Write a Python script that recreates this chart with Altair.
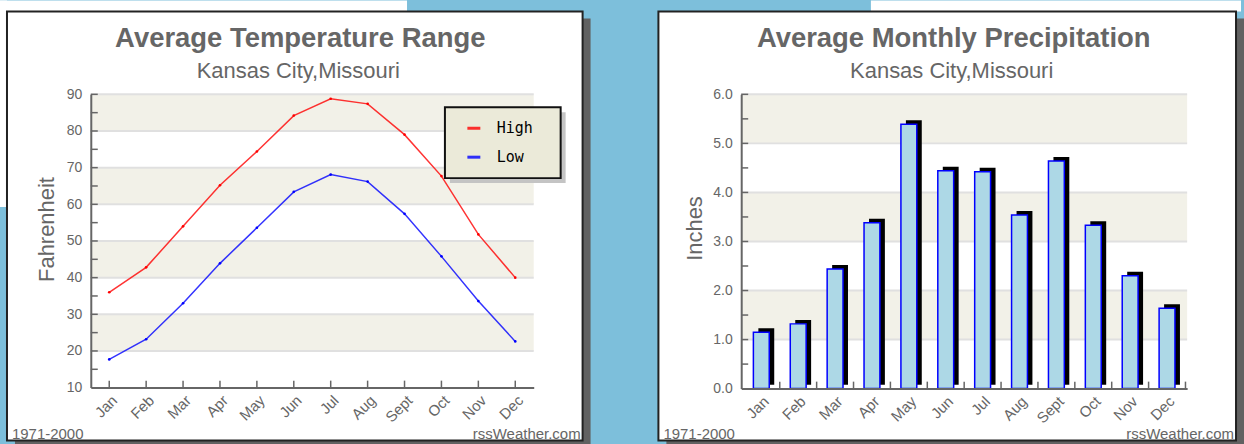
import altair as alt
import pandas as pd

# ---------------- data ----------------
months = ["Jan", "Feb", "Mar", "Apr", "May", "Jun", "Jul", "Aug", "Sept", "Oct", "Nov", "Dec"]
high_f = [36.0, 42.8, 54.0, 65.2, 74.4, 84.2, 88.8, 87.4, 79.0, 67.7, 51.8, 40.0]
low_f = [17.7, 23.2, 33.0, 43.9, 53.6, 63.4, 68.1, 66.2, 57.4, 45.8, 33.6, 22.6]
precip_in = [1.15, 1.32, 2.44, 3.38, 5.39, 4.44, 4.42, 3.54, 4.64, 3.33, 2.30, 1.64]

series_names = ["High", "Low"]
series_colors = ["#ff0000", "#0000ff"]

temp_ticks = [10, 20, 30, 40, 50, 60, 70, 80, 90]
temp_grid = [20, 30, 40, 50, 60, 70, 80, 90]
temp_minor = [15, 20, 25, 30, 35, 40, 45, 50, 55, 60, 65, 70, 75, 80, 85, 90]
temp_band_lo = [80, 60, 40, 20]
temp_band_hi = [90, 70, 50, 30]

precip_ticks = [0, 1, 2, 3, 4, 5, 6]
precip_grid = [1, 2, 3, 4, 5, 6]
precip_minor = [0.5, 1.0, 1.5, 2.0, 2.5, 3.0, 3.5, 4.0, 4.5, 5.0, 5.5, 6.0]
precip_band_lo = [5, 3, 1]
precip_band_hi = [6, 4, 2]

title_left = "Average Temperature Range"
title_right = "Average Monthly Precipitation"
subtitle = "Kansas City,Missouri"
footer_left = "1971-2000"
footer_right = "rssWeather.com"

# ---------------- style ----------------
FONT = "Liberation Sans"
TEXT = "#666666"
BAND = "#f2f1e8"
GRID = "#e0e0e0"
AXIS = "#666666"
W1, H1 = 444, 294
W2, H2 = 447, 295
PI, PO = 0.57, 0.33
STEP2 = W2 / (12 - PI + 2 * PO)

one = pd.DataFrame({"k": [0]})

temp_df = pd.DataFrame({
    "Month": months * 2,
    "Series": ["High"] * 12 + ["Low"] * 12,
    "Temp": high_f + low_f,
})
precip_df = pd.DataFrame({"Month": months, "Inches": precip_in})

axis_common = dict(
    labelFont=FONT, labelColor=TEXT,
    domainColor=AXIS, domainWidth=2, ticks=False, grid=False, zindex=1,
    titleFont=FONT, titleFontSize=22, titleColor=TEXT, titleFontWeight="normal",
)


def deco_rect(x0, x1, y0, y1, color="white"):
    return alt.Chart(one).mark_rect(color=color).encode(
        x=alt.value(x0), x2=alt.value(x1), y=alt.value(y0), y2=alt.value(y1))


def panel(x0, x1, y0, y1):
    shadow = deco_rect(x0 + 8, x1 + 8, y0 + 7, y1 + 20, "#616161")
    box = alt.Chart(one).mark_rect(fill="white", stroke="#222222", strokeWidth=2).encode(
        x=alt.value(x0), x2=alt.value(x1), y=alt.value(y0), y2=alt.value(y1))
    return shadow, box


def texts(title_text, cx, xl, xr, yf):
    t = alt.Chart(one).mark_text(align="center", baseline="alphabetic", font=FONT,
                                 fontSize=27.5, fontWeight="bold", color=TEXT).encode(
        x=alt.value(cx), y=alt.value(-47), text=alt.value(title_text))
    s = alt.Chart(one).mark_text(align="center", baseline="alphabetic", font=FONT,
                                 fontSize=22, color=TEXT).encode(
        x=alt.value(cx - 2), y=alt.value(-16), text=alt.value(subtitle))
    fl = alt.Chart(one).mark_text(align="left", baseline="alphabetic", font=FONT,
                                  fontSize=15, color=TEXT).encode(
        x=alt.value(xl), y=alt.value(yf), text=alt.value(footer_left))
    fr = alt.Chart(one).mark_text(align="right", baseline="alphabetic", font=FONT,
                                  fontSize=15, color=TEXT).encode(
        x=alt.value(xr), y=alt.value(yf), text=alt.value(footer_right))
    return [t, s, fl, fr]


# ---------------- left: temperature ----------------
ty = alt.Scale(domain=[10, 90], nice=False, zero=False)
tx = alt.Scale(type="point", padding=0.5)
t_xaxis = alt.Axis(title=None, labelAngle=-45, labelPadding=5, labelFontSize=15, **axis_common)
t_yaxis = alt.Axis(title="Fahrenheit", values=temp_ticks, labelPadding=9, labelFontSize=14,
                   titlePadding=8, titleY=135, **axis_common)

l_top = deco_rect(-91, 317, -94, -83)
l_side = deco_rect(-91, -84, -94, 113)
l_shadow, l_box = panel(-84, 493, -83, 347)

t_bands = alt.Chart(pd.DataFrame({"lo": temp_band_lo, "hi": temp_band_hi})).mark_rect(color=BAND).encode(
    x=alt.value(0), x2=alt.value(W1),
    y=alt.Y("lo:Q", scale=ty, axis=t_yaxis), y2="hi:Q")
t_grid = alt.Chart(pd.DataFrame({"v": temp_grid})).mark_rule(color=GRID, strokeWidth=2).encode(
    x=alt.value(0), x2=alt.value(W1), y=alt.Y("v:Q", scale=ty, axis=t_yaxis))
t_yt = alt.Chart(pd.DataFrame({"v": temp_minor})).mark_rule(color=AXIS, strokeWidth=1.5).encode(
    x=alt.value(0), x2=alt.value(7), y=alt.Y("v:Q", scale=ty, axis=t_yaxis))
t_xt = alt.Chart(pd.DataFrame({"Month": months})).mark_rule(color=AXIS, strokeWidth=1.5).encode(
    x=alt.X("Month:N", sort=months, scale=tx, axis=t_xaxis), y=alt.value(H1), y2=alt.value(H1 - 7))

t_lines = alt.Chart(temp_df).mark_line(
    strokeWidth=1.5, opacity=0.8,
    point=alt.OverlayMarkDef(filled=True, size=7, opacity=1)).encode(
    x=alt.X("Month:N", sort=months, scale=tx, axis=t_xaxis),
    y=alt.Y("Temp:Q", scale=ty, axis=t_yaxis),
    color=alt.Color("Series:N", sort=series_names,
                    scale=alt.Scale(domain=series_names, range=series_colors),
                    legend=alt.Legend(orient="none", legendX=376, legendY=27, title=None,
                                      symbolType="stroke", symbolSize=169, symbolStrokeWidth=3,
                                      labelFont="DejaVu Sans Mono", labelFontSize=15,
                                      labelColor="#000000", labelOffset=15, rowPadding=14,
                                      clipHeight=14, padding=0)),
)

leg_shadow = deco_rect(360, 476, 18, 89, "#c4c4c4")
leg_box = alt.Chart(one).mark_rect(fill="#ebead9", stroke="#111111", strokeWidth=2).encode(
    x=alt.value(355), x2=alt.value(471), y=alt.value(13), y2=alt.value(84))

left = alt.layer(l_top, l_side, l_shadow, l_box, t_bands, t_grid, t_yt, t_xt, t_lines,
                 leg_shadow, leg_box,
                 *texts(title_left, 210, -79, 491, 346)).properties(width=W1, height=H1)

# ---------------- right: precipitation ----------------
py = alt.Scale(domain=[0, 6], nice=False)
px = alt.Scale(type="band", paddingInner=PI, paddingOuter=PO)
p_xaxis = alt.Axis(title=None, labelAngle=-45, labelPadding=5, labelFontSize=15, **axis_common)
p_yaxis = alt.Axis(title="Inches", values=precip_ticks, format=".1f", labelPadding=9,
                   labelFontSize=14, titlePadding=6, titleY=134, **axis_common)

r_top = deco_rect(130, 501, -94, -83)
r_shadow, r_box = panel(-83, 496, -83, 347)

p_bands = alt.Chart(pd.DataFrame({"lo": precip_band_lo, "hi": precip_band_hi})).mark_rect(color=BAND).encode(
    x=alt.value(0), x2=alt.value(W2),
    y=alt.Y("lo:Q", scale=py, axis=p_yaxis), y2="hi:Q")
p_grid = alt.Chart(pd.DataFrame({"v": precip_grid})).mark_rule(color=GRID, strokeWidth=2).encode(
    x=alt.value(0), x2=alt.value(W2), y=alt.Y("v:Q", scale=py, axis=p_yaxis))
p_yt = alt.Chart(pd.DataFrame({"v": precip_minor})).mark_rule(color=AXIS, strokeWidth=1.5).encode(
    x=alt.value(0), x2=alt.value(7), y=alt.Y("v:Q", scale=py, axis=p_yaxis))
p_xt = alt.Chart(pd.DataFrame({"Month": months})).mark_rule(
    color=AXIS, strokeWidth=1.5, xOffset=STEP2 / 2).encode(
    x=alt.X("Month:N", sort=months, scale=px, axis=p_xaxis), y=alt.value(H2), y2=alt.value(H2 - 7))

p_back = alt.Chart(precip_df).mark_bar(color="#000000", xOffset=5, yOffset=-4).encode(
    x=alt.X("Month:N", sort=months, scale=px, axis=p_xaxis),
    y=alt.Y("Inches:Q", scale=py, axis=p_yaxis))
p_front = alt.Chart(precip_df).mark_bar(fill="#add8e6", stroke="#0000ff", strokeWidth=1.5).encode(
    x=alt.X("Month:N", sort=months, scale=px, axis=p_xaxis),
    y=alt.Y("Inches:Q", scale=py, axis=p_yaxis),
)

right = alt.layer(r_top, r_shadow, r_box, p_bands, p_grid, p_yt, p_xt, p_back, p_front,
                  *texts(title_right, 213, -78, 494, 346)).properties(width=W2, height=H2)

chart = alt.hconcat(left, right, spacing=208, bounds="flush").properties(
    background="#7dbfdb",
    padding={"left": 0, "top": 0, "right": 0, "bottom": 0},
    autosize=alt.AutoSizeParams(type="pad"),
).configure_view(stroke=None)

chart.save("out.html", embed_options={"renderer": "svg", "actions": False})
